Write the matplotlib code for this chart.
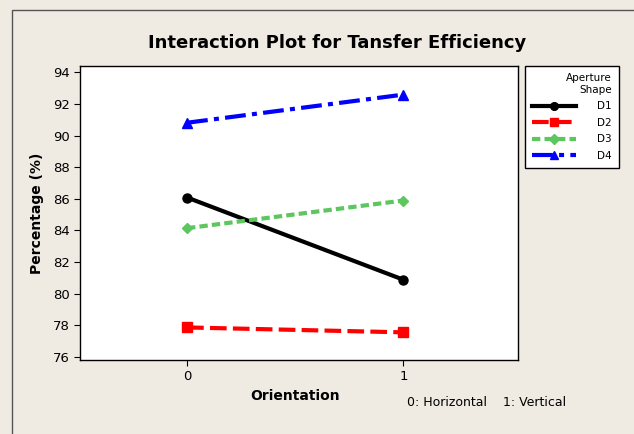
import matplotlib.pyplot as plt
from matplotlib.patches import Rectangle

orientation = [0, 1]
shapes = ["D1", "D2", "D3", "D4"]
d1 = [86.08, 80.88]
d2 = [77.86, 77.55]
d3 = [84.14, 85.89]
d4 = [90.81, 92.59]
values = [d1, d2, d3, d4]

colors = ["black", "#ff0000", "#5ec65e", "#0000ff"]
markers = ["o", "s", "D", "^"]
styles = ["-", (0, (4, 1.5)), (0, (2, 1)), (0, (5, 1.5, 1.2, 1.5))]
msizes = [6.5, 6.5, 5.5, 6.5]

bg = "#efebe2"
fig = plt.figure(figsize=(6.34, 4.34), dpi=100, facecolor=bg)
fig.patches.append(Rectangle((12 / 634, -0.1), 1.2, 1.1 - 10 / 434, transform=fig.transFigure,
                             fill=False, edgecolor="#555555", linewidth=1))

ax = fig.add_axes([80 / 634, 1 - 360 / 434, 438 / 634, 294 / 434])
for name, v, c, m, ls, ms in zip(shapes, values, colors, markers, styles, msizes):
    ax.plot(orientation, v, color=c, marker=m, linestyle=ls, linewidth=3, markersize=ms, label=name)

ax.set_xlim(-0.495, 1.53)
ax.set_ylim(75.8, 94.4)
ax.set_xticks(orientation)
ax.set_yticks(range(76, 95, 2))
ax.tick_params(labelsize=9.5, length=4, direction="out")
for s in ax.spines.values():
    s.set_linewidth(1)
ax.set_xlabel("Orientation", fontsize=10, fontweight="bold")
ax.set_ylabel("Percentage (%)", fontsize=10, fontweight="bold", labelpad=6)
ax.xaxis.set_label_coords(0.49, -0.1)

fig.text(0.5 + 40 / 634 / 2, 1 - 43 / 434, "Interaction Plot for Tansfer Efficiency",
         ha="center", va="center", fontsize=13, fontweight="bold")
fig.text(407 / 634, 1 - 403 / 434, "0: Horizontal    1: Vertical", ha="left", va="center", fontsize=9)

leg = fig.legend(loc="upper left", bbox_to_anchor=(525 / 634, 1 - 66 / 434), title="Aperture\nShape",
                 alignment="right", fontsize=7.5, title_fontsize=7.5, handlelength=4.2, handletextpad=2.0,
                 frameon=True, fancybox=False, edgecolor="black", borderpad=0.7, labelspacing=0.62,
                 markerscale=0.85, borderaxespad=0, framealpha=1)
leg.get_frame().set_linewidth(1)
leg.get_title().set_multialignment("right")

fig.savefig("out.png", dpi=100, facecolor=bg)
